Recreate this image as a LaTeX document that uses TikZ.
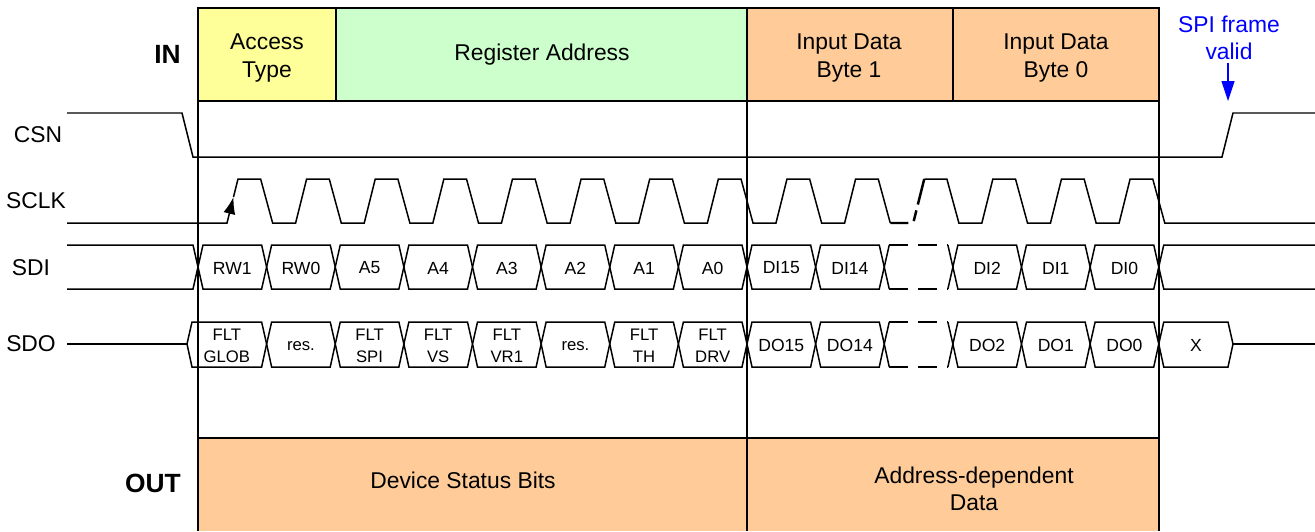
\documentclass[tikz,border=0pt]{standalone}
\usepackage{fontspec}
\setmainfont{Liberation Sans}
\usetikzlibrary{arrows.meta}
\definecolor{boxyellow}{HTML}{FFFF99}
\definecolor{boxgreen}{HTML}{CCFFCC}
\definecolor{boxorange}{HTML}{FFCC99}
\definecolor{noteblue}{HTML}{0000FF}
\begin{document}
\begin{tikzpicture}[x=0.02cm,y=-0.02cm,line join=miter,
  sig/.style={line width=0.85pt},
  framel/.style={line width=0.6pt},
  gapdash/.style={line width=1.4pt,dash pattern=on 0.38cm off 0.2cm},
  maintext/.style={font=\fontsize{13}{15.5}\selectfont,align=center,inner sep=0pt},
  boldtext/.style={font=\fontsize{15}{18}\selectfont\bfseries,inner sep=0pt},
  celltext/.style={font=\fontsize{10}{12}\selectfont,inner sep=0pt},
  sdotext/.style={font=\fontsize{9.5}{12.5}\selectfont,align=center,inner sep=0pt}]
\useasboundingbox (0,0) rectangle (1315,531);
\def\P{68.625}
\def\h{5}
% ---------- boxes ----------
\fill[boxyellow] (198,8) rectangle (336,101);
\fill[boxgreen] (336,8) rectangle (747,101);
\fill[boxorange] (747,8) rectangle (1159,101);
\fill[boxorange] (198,438) rectangle (1159,531);
\draw[framel] (198,8) rectangle (1159,101);
\draw[framel] (336,8) -- (336,101) (953,8) -- (953,101);
\draw[framel] (198,8) -- (198,531) (747,8) -- (747,531) (1159,8) -- (1159,531);
\draw[framel] (198,438) -- (1159,438);
% ---------- texts ----------
\node[boldtext,anchor=east] (in) at (181,54) {IN};
\node[boldtext,anchor=east] (out) at (181,483) {OUT};
\node[maintext] (csn) at (38,135) {CSN};
\node[maintext] (sclk) at (36,201) {SCLK};
\node[maintext] (sdi) at (31,268) {SDI};
\node[maintext] (sdo) at (31,344) {SDO};
\node[maintext] (acc) at (267,58) {Access\\Type};
\node[maintext] (reg) at (542,55) {Register Address};
\node[maintext] (ib1) at (849,58) {Input Data\\Byte 1};
\node[maintext] (ib0) at (1056,58) {Input Data\\Byte 0};
\node[maintext] (dev) at (463,480) {Device Status Bits};
\node[maintext] (add) at (974,489) {Address-dependent\\Data};
\node[maintext,text=noteblue] (spi) at (1229,38) {SPI frame\\valid};
\coordinate (spitip) at (1228,101);
\draw[noteblue,line width=0.7pt,-{Triangle[length=0.4cm,width=0.26cm]}] (spi.south -| spitip) ++(0,3) -- (spitip);
% ---------- CSN ----------
\draw[sig] (67,113) -- (182,113) -- (193,157) -- (1222,157) -- (1233,113) -- (1315,113);
% ---------- SCLK ----------
\draw[sig,-{Latex[length=0.34cm,width=0.24cm]}] (67,223) -- (227,223) -- (233.5,197);
\draw[sig] (233.5,197) -- (238,179)
  \foreach \k in {1,...,9} {-- ({198+\k*\P-6},179) -- ({198+\k*\P+6},223) -- ({198+\k*\P+29},223) -- ({198+\k*\P+40},179)}
  -- ({198+10*\P-6},179) -- ({198+10*\P+6},223);
\draw[line width=1.4pt,dash pattern=on 0.36cm off 0.14cm on 0.22cm off 0.12cm on 1cm]
  ({198+10*\P+6},223) -- ({198+10*\P+29},223) -- ({198+10*\P+40},179);
\draw[sig] ({198+10*\P+40},179)
  \foreach \k in {11,12,13} {-- ({198+\k*\P-6},179) -- ({198+\k*\P+6},223) -- ({198+\k*\P+29},223) -- ({198+\k*\P+40},179)}
  -- ({198+14*\P-6},179) -- ({198+14*\P+6},223) -- (1315,223);
% ---------- SDI ----------
\draw[sig] (67,245) -- (198-\h,245) -- (198,267) -- (198-\h,289) -- (67,289);
\foreach \k/\t in {0/RW1,1/RW0,2/A5,3/A4,4/A3,5/A2,6/A1,7/A0,8/DI15,9/DI14,11/DI2,12/DI1,13/DI0} {
  \pgfmathsetmacro\a{198+\k*\P}
  \pgfmathsetmacro\b{198+(\k+1)*\P}
  \draw[sig] (\a,267) -- (\a+\h,245) -- (\b-\h,245) -- (\b,267) -- (\b-\h,289) -- (\a+\h,289) -- cycle;
  \node[celltext] (sdi\k) at ({(\a+\b)/2},268) {\t};
}
\pgfmathsetmacro\ga{198+10*\P}
\pgfmathsetmacro\gb{198+11*\P}
\draw[sig] (\ga+\h,245) -- (\ga,267) -- (\ga+\h,289) (\gb-\h,245) -- (\gb,267) -- (\gb-\h,289);
\draw[gapdash] (\ga+\h,245) -- (\gb-\h,245) (\ga+\h,289) -- (\gb-\h,289);
\pgfmathsetmacro\e{198+14*\P}
\draw[sig] (1315,245) -- (\e+\h,245) -- (\e,267) -- (\e+\h,289) -- (1315,289);
% ---------- SDO ----------
\draw[sig] (67,344) -- (187,344);
\pgfmathsetmacro\b{198+\P}
\draw[sig] (187,344) -- (192,322) -- (\b-\h,322) -- (\b,344) -- (\b-\h,367) -- (192,367) -- cycle;
\node[sdotext] (sdo0) at ({(187+\b)/2},346) {FLT\\GLOB};
\foreach \k/\t in {1/res.,2/FLT\\SPI,3/FLT\\VS,4/FLT\\VR1,5/res.,6/FLT\\TH,7/FLT\\DRV} {
  \pgfmathsetmacro\a{198+\k*\P}
  \pgfmathsetmacro\b{198+(\k+1)*\P}
  \draw[sig] (\a,344) -- (\a+\h,322) -- (\b-\h,322) -- (\b,344) -- (\b-\h,367) -- (\a+\h,367) -- cycle;
  \node[sdotext] (sdo\k) at ({(\a+\b)/2},346) {\t};
}
\foreach \k/\t in {8/DO15,9/DO14,11/DO2,12/DO1,13/DO0} {
  \pgfmathsetmacro\a{198+\k*\P}
  \pgfmathsetmacro\b{198+(\k+1)*\P}
  \draw[sig] (\a,344) -- (\a+\h,322) -- (\b-\h,322) -- (\b,344) -- (\b-\h,367) -- (\a+\h,367) -- cycle;
  \node[celltext] (sdo\k) at ({(\a+\b)/2},345) {\t};
}
\draw[sig] (\ga+\h,322) -- (\ga,344) -- (\ga+\h,367) (\gb-\h,322) -- (\gb,344) -- (\gb-\h,367);
\draw[gapdash] (\ga+\h,322) -- (\gb-\h,322) (\ga+\h,367) -- (\gb-\h,367);
\draw[sig] (\e,344) -- (\e+\h,322) -- (1228,322) -- (1233,344) -- (1228,367) -- (\e+\h,367) -- cycle;
\node[celltext] (sdo14) at ({(\e+1233)/2},345) {X};
\draw[sig] (1233,344) -- (1315,344);
\end{tikzpicture}
\end{document}
